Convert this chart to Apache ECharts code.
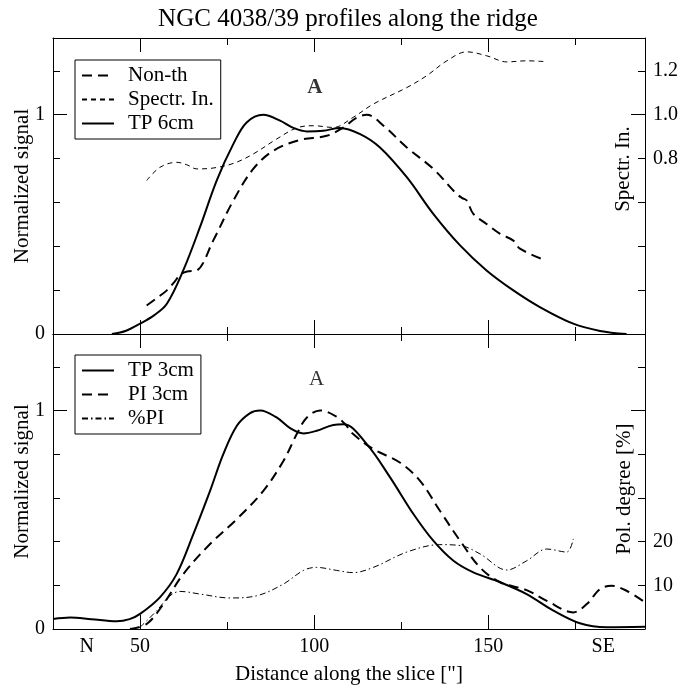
<!DOCTYPE html>
<html>
<head>
<meta charset="utf-8">
<script src="https://cdn.jsdelivr.net/npm/echarts@6/dist/echarts.min.js"></script>
<style>
html,body{margin:0;padding:0;background:#fff}
#chart{width:696px;height:689px}
</style>
</head>
<body>
<div id="chart"></div>
<script>
// ---- data: [distance ["], value] ----
// upper panel (normalized signal)
var tp6cm = [[41.9,0],[46,0.015],[50,0.047],[54,0.085],[57.7,0.138],[62.4,0.29],[67.2,0.487],[72,0.70],[76.8,0.867],
  [80.6,0.965],[85.4,1.0],[90.2,0.973],[94,0.94],[97.9,0.924],[102.6,0.927],[107.4,0.94],[113.2,0.912],[118.9,0.851],
  [126.6,0.715],[134.2,0.548],[141.9,0.404],[149.5,0.29],[157.2,0.199],[164.8,0.123],[174.4,0.047],[182.1,0.014],[189.7,0]];
var nonTh = [[51.9,0.13],[54.5,0.16],[57.7,0.199],[60,0.24],[61.5,0.27],[63.5,0.285],[66.3,0.29],[71,0.426],[76.8,0.609],
  [82.5,0.753],[88.3,0.836],[95.9,0.885],[103.6,0.904],[108.4,0.942],[112,0.985],[115.1,1.0],[119.9,0.95],[126.6,0.851],
  [134.2,0.753],[140.9,0.639],[142.5,0.62],[143.8,0.609],[145.7,0.548],[149.5,0.502],[153.4,0.457],[157.2,0.426],
  [159.1,0.389],[165.3,0.343]];
// spectral index (right axis)
var spectrIn = [[51.9,0.70],[55.7,0.76],[60.5,0.783],[63.4,0.772],[66.3,0.753],[71,0.757],[76.8,0.778],[82.5,0.821],
  [89.2,0.889],[95,0.94],[99.8,0.95],[105.5,0.942],[111.2,0.988],[117,1.049],[126.6,1.124],[132.3,1.178],[138.1,1.246],
  [143.8,1.287],[149.5,1.269],[155.3,1.241],[161,1.246],[165.8,1.243]];
// lower panel (normalized signal)
var tp3cm = [[25,0.046],[29.9,0.053],[36,0.045],[43.3,0.035],[47,0.045],[50,0.069],[55.7,0.145],[60.5,0.251],[65.3,0.434],
  [70.1,0.632],[73.9,0.80],[77.8,0.93],[81.6,0.988],[84.5,1.0],[89.2,0.968],[93.1,0.919],[96.9,0.895],[100.7,0.907],
  [105.5,0.934],[108.5,0.937],[115.1,0.846],[121.8,0.694],[128.5,0.526],[134.2,0.404],[140,0.312],[145.7,0.259],
  [153.4,0.214],[161,0.16],[168.7,0.084],[176.3,0.026],[184,0.008],[195,0.01]];
var pi3cm = [[47.1,0],[51.9,0.023],[56.7,0.114],[62.4,0.251],[70.1,0.389],[77.8,0.503],[85.4,0.632],[91.2,0.77],[95,0.892],
  [97.9,0.968],[101.7,1.0],[106.5,0.971],[109,0.935],[111.2,0.892],[117,0.823],[124.6,0.762],[130.4,0.678],[136.1,0.541],
  [141.9,0.404],[147.6,0.282],[153.4,0.214],[161,0.178],[166.8,0.129],[174.4,0.076],[178.3,0.114],[182.1,0.183],
  [185.4,0.198],[189.7,0.175],[195,0.122]];
// polarization degree in % (right axis)
var polPI = [[50,0.4],[54.8,4.2],[58.6,7.6],[61.5,8.6],[67.2,8.0],[75.8,7.1],[83.5,7.6],[91.2,10.3],[96.9,13.4],[100.7,14.1],
  [106.5,13.4],[111.2,12.9],[117,14.1],[126.6,17.6],[136.1,19.3],[141.9,19.1],[147.6,17.2],[155.3,13.5],[161,15.6],
  [166.8,18.3],[172.5,17.6],[174.4,20.6]];

// ---- ticks and labels ----
var xMinorTicks = [50,75,100,125,150,175];
var xMajorTicks = [50,100,150];
var xLabelValues = [34.7,50,100,150,183];
var xLabelTexts = ['N','50','100','150','SE'];
var yMinorTicks = [0.2,0.4,0.6,0.8,1.2];
var yMajorTicks = [0,1];
var yLabelValues = [0,1];
var spixLabelValues = [0.8,1.0,1.2];
var polMinorTicks = [10,20,30,40,60];
var polMajorTicks = [0,50];
var polLabelValues = [10,20];

var FONT = '"Liberation Serif", "Times New Roman", serif';
var FS = 20;      // tick labels
var FS_NAME = 21; // axis names, legend
var xMin = 25, xMax = 195;
var yMax = 1.35;
var polMax = yMax * 50; // 10 % per 0.2 of normalized signal

var black = '#000';

function xAx(grid, pos, ticks, len, line, labels) {
  var a = {
    type: 'value', gridIndex: grid, position: pos, min: xMin, max: xMax,
    axisLine: {show: line, onZero: false, lineStyle: {color: black, width: 1}},
    axisTick: {show: true, inside: true, length: len, customValues: ticks, lineStyle: {color: black, width: 1}},
    axisLabel: {show: false},
    splitLine: {show: false}
  };
  if (labels) {
    a.axisLabel = {
      show: true, customValues: xLabelValues, margin: 8, color: black, fontFamily: FONT, fontSize: FS,
      formatter: function (v) {
        var i = xLabelValues.indexOf(v);
        return i >= 0 ? xLabelTexts[i] : '';
      }
    };
    a.name = 'Distance along the slice ["]';
    a.nameLocation = 'middle';
    a.nameGap = 35;
    a.nameMoveOverlap = false;
    a.nameTextStyle = {color: black, fontFamily: FONT, fontSize: FS_NAME};
  }
  return a;
}

function yAx(grid, pos, max, ticks, len, line, labelVals, fmt, name, nameGap, namePad) {
  var a = {
    type: 'value', gridIndex: grid, position: pos, min: 0, max: max,
    axisLine: {show: line, onZero: false, lineStyle: {color: black, width: 1}},
    axisTick: {show: true, inside: true, length: len, customValues: ticks, lineStyle: {color: black, width: 1}},
    axisLabel: {show: false},
    splitLine: {show: false}
  };
  if (labelVals) {
    a.axisLabel = {show: true, customValues: labelVals, margin: 8, color: black, fontFamily: FONT, fontSize: FS, formatter: fmt};
  }
  if (name) {
    a.name = name;
    a.nameLocation = 'middle';
    a.nameGap = nameGap;
    a.nameMoveOverlap = false;
    a.nameTextStyle = {color: black, fontFamily: FONT, fontSize: FS_NAME, verticalAlign: 'middle', padding: namePad || 0};
  }
  return a;
}

var intFmt = function (v) { return String(Math.round(v)); };
var decFmt = function (v) { return v.toFixed(1); };

var chart = echarts.init(document.getElementById('chart'), null, {renderer: 'canvas'});

function lineSeries(name, data, xi, yi, width, type) {
  return {
    name: name, type: 'line', xAxisIndex: xi, yAxisIndex: yi, data: data,
    smooth: 0.35, symbol: 'none', showSymbol: false, silent: true,
    lineStyle: {color: black, width: width, type: type},
    itemStyle: {color: black}
  };
}

function legendDef(names, top) {
  return {
    data: names,
    orient: 'vertical', left: 75, top: top,
    borderColor: black, borderWidth: 1, borderRadius: 0,
    padding: [5, 7, 5, 6], itemGap: 3, itemWidth: 32, itemHeight: 14,
    itemStyle: {opacity: 0},
    textStyle: {color: black, fontFamily: FONT, fontSize: FS_NAME, lineHeight: 20, padding: [0, 0, 0, 9]},
    selectedMode: false
  };
}

var option = {
  backgroundColor: '#fff',
  animation: false,
  title: {
    text: 'NGC 4038/39 profiles along the ridge',
    left: 'center', top: 2,
    textStyle: {color: black, fontFamily: FONT, fontSize: 25, fontWeight: 'normal'}
  },
  grid: [
    {left: 53, right: 51, top: 38, height: 296, outerBoundsMode: 'none', containLabel: false},
    {left: 53, right: 51, top: 334, height: 295, outerBoundsMode: 'none', containLabel: false}
  ],
  legend: [
    legendDef(['Non-th', 'Spectr. In.', 'TP 6cm'], 60),
    legendDef(['TP 3cm', 'PI 3cm', '%PI'], 355)
  ],
  xAxis: [
    xAx(0, 'bottom', xMinorTicks, 7, true, false),
    xAx(0, 'bottom', xMajorTicks, 14, false, false),
    xAx(0, 'top', xMinorTicks, 7, true, false),
    xAx(0, 'top', xMajorTicks, 14, false, false),
    xAx(1, 'bottom', xMinorTicks, 7, true, true),
    xAx(1, 'bottom', xMajorTicks, 14, false, false),
    xAx(1, 'top', xMinorTicks, 7, true, false),
    xAx(1, 'top', xMajorTicks, 14, false, false)
  ],
  yAxis: [
    yAx(0, 'left', yMax, yMinorTicks, 7, true, yLabelValues, intFmt, 'Normalized signal', 31),
    yAx(0, 'left', yMax, yMajorTicks, 14, false),
    yAx(0, 'right', yMax, yMinorTicks, 7, true, spixLabelValues, decFmt, 'Spectr. In.', -22, [0, 0, 0, 34]),
    yAx(0, 'right', yMax, yMajorTicks, 14, false),
    yAx(1, 'left', yMax, yMinorTicks, 7, true, yLabelValues, intFmt, 'Normalized signal', 31),
    yAx(1, 'left', yMax, yMajorTicks, 14, false),
    yAx(1, 'right', polMax, polMinorTicks, 7, true, polLabelValues, intFmt, 'Pol. degree [%]', -21, [0, 15, 0, 0]),
    yAx(1, 'right', polMax, polMajorTicks, 14, false)
  ],
  series: [
    lineSeries('TP 6cm', tp6cm, 0, 0, 2, 'solid'),
    lineSeries('Non-th', nonTh, 0, 0, 2, [10, 6]),
    lineSeries('Spectr. In.', spectrIn, 0, 2, 1, [5, 4]),
    lineSeries('TP 3cm', tp3cm, 4, 4, 2, 'solid'),
    lineSeries('PI 3cm', pi3cm, 4, 4, 2, [10, 6]),
    lineSeries('%PI', polPI, 4, 6, 1, [6, 3, 1.5, 3]),
    {
      type: 'scatter', xAxisIndex: 0, yAxisIndex: 0, symbolSize: 0, silent: true,
      data: [[100.2, 1.124]],
      label: {show: true, position: 'inside', formatter: 'A', color: black, fontFamily: FONT, fontSize: 21, fontWeight: 'bold'}
    },
    {
      type: 'scatter', xAxisIndex: 4, yAxisIndex: 4, symbolSize: 0, silent: true,
      data: [[100.7, 1.143]],
      label: {show: true, position: 'inside', formatter: 'A', color: black, fontFamily: FONT, fontSize: 21}
    }
  ]
};

chart.setOption(option);
</script>
</body>
</html>
